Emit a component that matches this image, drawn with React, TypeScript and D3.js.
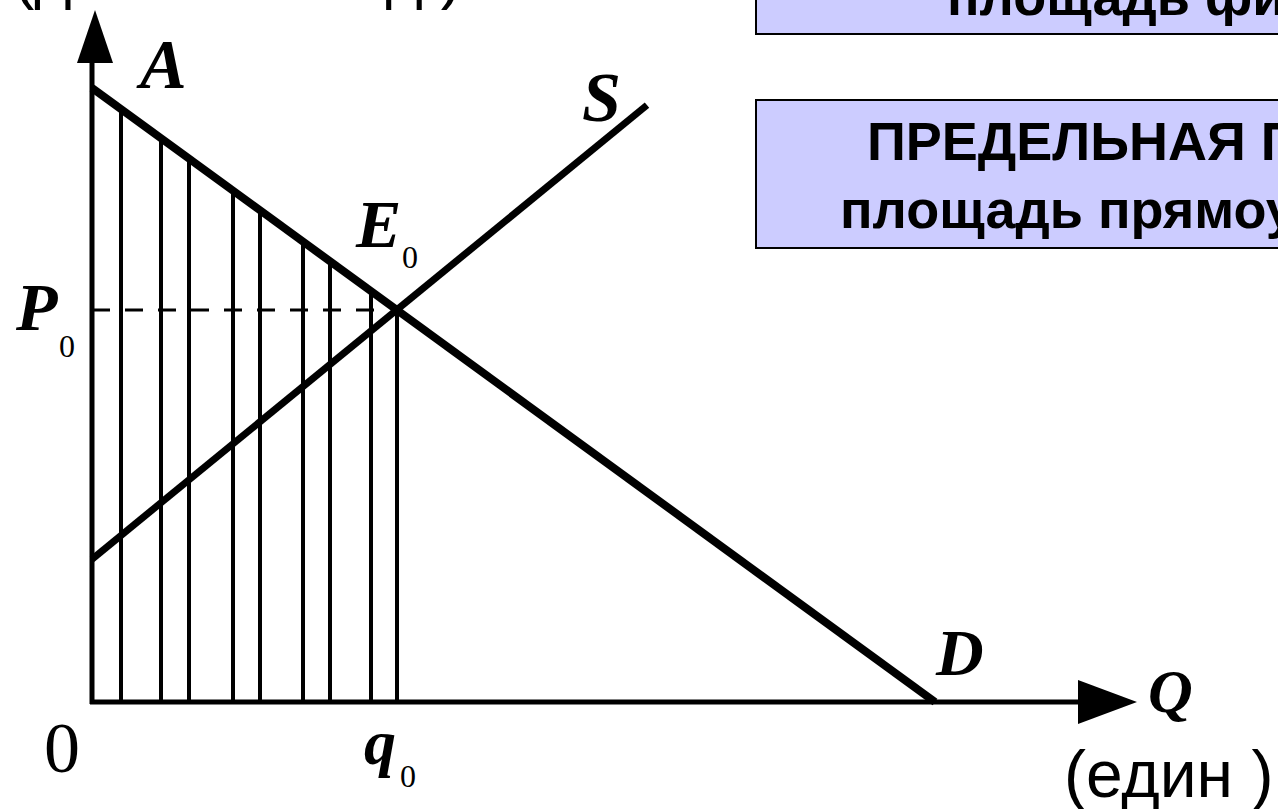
import React from "react";
import * as d3 from "d3";

const W = 1278;
const H = 809;

// demand and supply (Q and P in conventional units)
const demandPts = [
  { q: 0, p: 8.9 },
  { q: 8.43, p: 0 },
];
const supplyPts = [
  { q: 0, p: 2.07 },
  { q: 5.55, p: 8.65 },
];
// vertical hatch lines under the demand curve, 0 .. q0
const hatchQ = [0.29, 0.69, 0.97, 1.41, 1.68, 2.11, 2.38, 2.79, 3.05];
const equilibrium = { q: 3.05, p: 5.68 };

const serif = "'Liberation Serif', 'DejaVu Serif', serif";
const sans = "'Liberation Sans', Arial, sans-serif";

export default function App() {
  const x = d3.scaleLinear().domain([0, 10]).range([92, 1092]);
  const y = d3.scaleLinear().domain([0, 10]).range([702, 12]);
  // demand as a function of Q, from its two ends
  const demandAt = d3
    .scaleLinear()
    .domain([demandPts[0].q, demandPts[1].q])
    .range([demandPts[0].p, demandPts[1].p]);

  const line = d3
    .line<{ q: number; p: number }>()
    .x((d) => x(d.q))
    .y((d) => y(d.p));

  const x0 = x(0);
  const y0 = y(0);

  const ital = { fontFamily: serif, fontStyle: "italic", fontWeight: "bold" } as const;

  return (
    <svg
      width={W}
      height={H}
      style={{ position: "absolute", left: 0, top: 0, display: "block", background: "#fff" }}
    >
      {/* text boxes, cut by the right edge */}
      <rect x={756} y={-10} width={620} height={44} fill="#ccccff" stroke="#000" strokeWidth={2} />
      <text x={947} y={15} fontFamily={sans} fontWeight="bold" fontSize={54}>
        площадь фигуры
      </text>
      <rect x={756} y={100} width={620} height={148} fill="#ccccff" stroke="#000" strokeWidth={2} />
      <text x={867} y={160} fontFamily={sans} fontWeight="bold" fontSize={54}>
        ПРЕДЕЛЬНАЯ ПОЛЕЗНОСТЬ –
      </text>
      <text x={840} y={228} fontFamily={sans} fontWeight="bold" fontSize={54}>
        площадь прямоугольника
      </text>

      {/* y axis label, almost all above the page */}
      <text x={13} y={-3} fontFamily={sans} fontSize={64}>
        (денежных ед.)
      </text>

      {/* hatching */}
      {hatchQ.map((q, i) => (
        <line
          key={i}
          x1={x(q)}
          x2={x(q)}
          y1={y0}
          y2={y(demandAt(q))}
          stroke="#000"
          strokeWidth={4}
        />
      ))}

      {/* P0 dashed */}
      <line
        x1={x0}
        x2={x(equilibrium.q) - 8}
        y1={y(equilibrium.p)}
        y2={y(equilibrium.p)}
        stroke="#000"
        strokeWidth={3}
        strokeDasharray="18 15"
      />

      {/* axes */}
      <line x1={x0} x2={x0} y1={y0 + 2} y2={60} stroke="#000" strokeWidth={5} />
      <path d={`M${x0 + 3},10 L${x0 - 15},63 L${x0 + 21},63 Z`} fill="#000" />
      <line x1={x0 - 2} x2={1080} y1={y0} y2={y0} stroke="#000" strokeWidth={5} />
      <path d={`M1137,${y0} L1078,${y0 - 22} L1078,${y0 + 22} Z`} fill="#000" />

      {/* curves */}
      <path d={line(demandPts) ?? ""} fill="none" stroke="#000" strokeWidth={8} />
      <path d={line(supplyPts) ?? ""} fill="none" stroke="#000" strokeWidth={7} />

      {/* labels */}
      <text x={140} y={88} fontSize={70} {...ital}>A</text>
      <text x={582} y={121} fontSize={70} {...ital}>S</text>
      <text x={356} y={247} fontSize={68} {...ital}>E</text>
      <text x={402} y={268} fontSize={32} fontFamily={serif}>0</text>
      <text x={16} y={330} fontSize={68} {...ital}>P</text>
      <text x={59} y={357} fontSize={32} fontFamily={serif}>0</text>
      <text x={44} y={772} fontSize={72} fontFamily={serif}>0</text>
      <text x={364} y={764} fontSize={64} {...ital}>q</text>
      <text x={400} y={787} fontSize={32} fontFamily={serif}>0</text>
      <text x={936} y={675} fontSize={66} {...ital}>D</text>
      <text x={1148} y={712} fontSize={62} {...ital}>Q</text>
      <text x={1064} y={797} fontSize={66} fontFamily={sans}>
        (един )
      </text>
    </svg>
  );
}
